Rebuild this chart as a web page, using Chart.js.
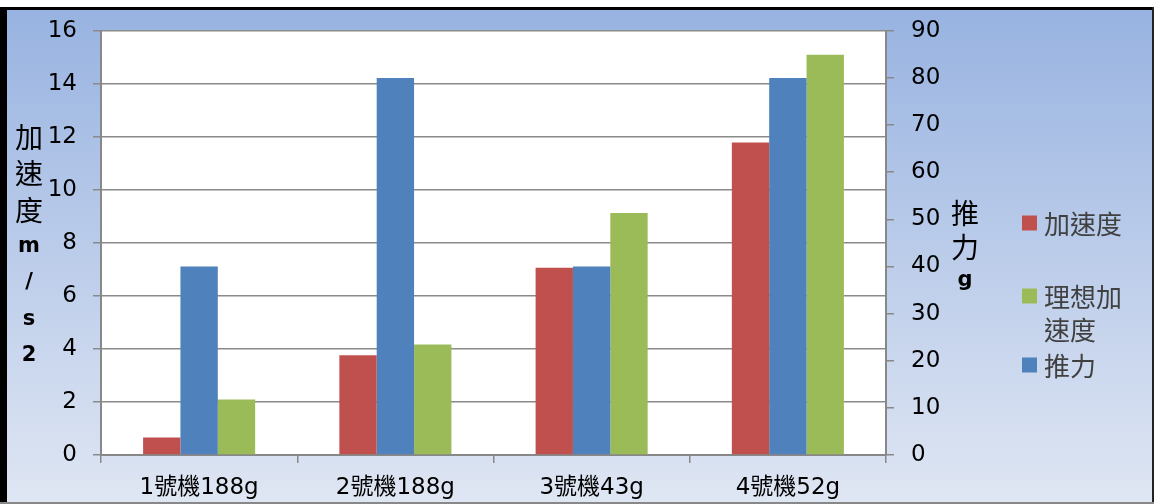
<!DOCTYPE html>
<html>
<head>
<meta charset="utf-8">
<script src="https://cdn.jsdelivr.net/npm/chart.js@4"></script>
<style>
    html, body { margin: 0; padding: 0; background: #fff; }
    #wrap { width: 1154px; height: 504px; }
</style>
</head>
<body>
<div id="wrap"><canvas id="chart" width="1154" height="504"></canvas></div>
<script>
// Data
const categories = ['1號機188g', '2號機188g', '3號機43g', '4號機52g'];
const accel = [0.66, 3.76, 7.06, 11.79];       // 加速度 (left axis)
const thrust = [40, 80, 40, 80];                // 推力 (right axis)
const idealAccel = [2.09, 4.17, 9.13, 15.1];    // 理想加速度 (left axis)
const leftMax = 16, leftStep = 2;
const rightMax = 90, rightStep = 10;
const leftTitle = ['加', '速', '度', 'm', '/', 's', '2'];
const rightTitle = ['推', '力', 'g'];
const legendOrder = [0, 2, 1];

const LATIN = '"DejaVu Sans", "Noto Sans CJK TC", sans-serif';
const CJK = '"Noto Sans CJK TC", sans-serif';

function isCJK(ch) {
    return ch.charCodeAt(0) > 0x2E80;
}

// Background, borders and white plot area
const backgroundPlugin = {
    id: 'background',
    beforeDraw(chart) {
        const ctx = chart.ctx;
        const a = chart.chartArea;
        ctx.save();
        ctx.fillStyle = '#fff';
        ctx.fillRect(0, 0, chart.width, chart.height);
        const g = ctx.createLinearGradient(0, 10, 0, 502);
        g.addColorStop(0, '#98b3e1');
        g.addColorStop(1, '#dfe6f3');
        ctx.fillStyle = g;
        ctx.fillRect(7, 10, 1145, 492);
        ctx.fillStyle = '#000';
        ctx.fillRect(0, 7, 1154, 3);
        ctx.fillRect(0, 7, 7, 495);
        ctx.fillStyle = '#222';
        ctx.fillRect(1152, 7, 2, 495);
        ctx.fillStyle = '#888';
        ctx.fillRect(0, 502, 1154, 2);
        ctx.fillStyle = '#fff';
        ctx.fillRect(a.left, a.top, a.right - a.left, a.bottom - a.top);
        ctx.restore();
    }
};

// Stacked axis titles and the legend on the right
const textPlugin = {
    id: 'texts',
    afterDraw(chart) {
        const ctx = chart.ctx;
        ctx.save();
        ctx.textAlign = 'center';
        ctx.textBaseline = 'middle';
        ctx.fillStyle = '#000';

        function drawColumn(chars, x, y0, step) {
            chars.forEach((ch, i) => {
                ctx.font = isCJK(ch) ? '28px ' + CJK : 'bold 21px ' + LATIN;
                ctx.fillText(ch, x, y0 + i * step);
            });
        }
        drawColumn(leftTitle, 29, 137, 36.5);
        drawColumn(rightTitle, 965, 213, 34);

        // legend
        const itemY = [224, 297, 366];
        ctx.textAlign = 'left';
        ctx.font = '26px ' + CJK;
        legendOrder.forEach((idx, k) => {
            const ds = chart.data.datasets[idx];
            const lines = [];
            let cur = '';
            for (const ch of ds.label) {
                if (ctx.measureText(cur + ch).width > 90 && cur) {
                    lines.push(cur);
                    cur = ch;
                } else {
                    cur += ch;
                }
            }
            lines.push(cur);
            ctx.fillStyle = ds.backgroundColor;
            ctx.fillRect(1022, itemY[k] - 8.5, 15, 15);
            ctx.fillStyle = '#404040';
            lines.forEach((line, j) => {
                ctx.fillText(line, 1044, itemY[k] + j * 33);
            });
        });
        ctx.restore();
    }
};

new Chart(document.getElementById('chart'), {
    type: 'bar',
    data: {
        labels: categories,
        datasets: [
            {
                label: '加速度',
                data: accel,
                backgroundColor: '#c0504d',
                yAxisID: 'y'
            },
            {
                label: '推力',
                data: thrust,
                backgroundColor: '#4f81bd',
                yAxisID: 'y1'
            },
            {
                label: '理想加速度',
                data: idealAccel,
                backgroundColor: '#9bbb59',
                yAxisID: 'y'
            }
        ]
    },
    options: {
        responsive: false,
        animation: false,
        devicePixelRatio: 1,
        categoryPercentage: 0.571,
        barPercentage: 1,
        layout: {
            padding: { top: 29, left: 0, right: 0, bottom: 0 }
        },
        plugins: {
            legend: { display: false },
            tooltip: { enabled: false }
        },
        scales: {
            x: {
                offset: true,
                afterFit: function (scale) { scale.height = 49; },
                grid: {
                    offset: true,
                    drawOnChartArea: false,
                    color: '#888',
                    lineWidth: 1.5,
                    tickLength: 8
                },
                border: { color: '#888', width: 2 },
                ticks: {
                    color: '#000',
                    padding: 11,
                    font: { family: LATIN, size: 23 }
                }
            },
            y: {
                position: 'left',
                min: 0,
                max: leftMax,
                afterFit: function (scale) { scale.width = 101; },
                grid: {
                    color: '#8a8a8a',
                    lineWidth: 1.5,
                    tickLength: 8
                },
                border: { color: '#888', width: 2 },
                ticks: {
                    stepSize: leftStep,
                    color: '#000',
                    padding: 16,
                    font: { family: LATIN, size: 23 }
                }
            },
            y1: {
                position: 'right',
                min: 0,
                max: rightMax,
                afterFit: function (scale) { scale.width = 268; },
                grid: {
                    drawOnChartArea: false,
                    color: '#888',
                    lineWidth: 1.5,
                    tickLength: 8
                },
                border: { color: '#888', width: 2 },
                ticks: {
                    stepSize: rightStep,
                    color: '#000',
                    padding: 17,
                    font: { family: LATIN, size: 23 }
                }
            }
        }
    },
    plugins: [backgroundPlugin, textPlugin]
});
</script>
</body>
</html>
